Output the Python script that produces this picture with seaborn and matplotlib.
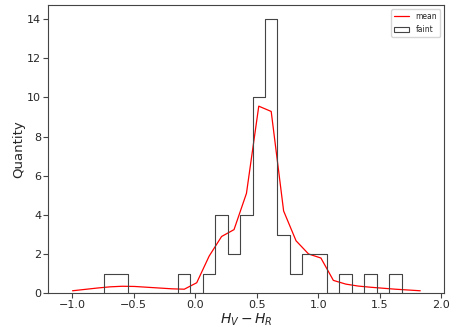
import numpy as np
import pandas as pd
import seaborn as sns
import matplotlib
matplotlib.use("Agg")
import matplotlib.pyplot as plt
from matplotlib.lines import Line2D
from matplotlib.patches import Patch

sns.set_style("white")

# histogram of the faint sample: 24 bins between the min and max colour
bin_min = -0.745
bin_max = 1.676
n_bins = 24
counts = [1, 1, 0, 0, 0, 0, 1, 0, 1, 4, 2, 4, 10, 14, 3, 1, 2, 2, 0, 1, 0, 1, 0, 1]

# mean curve, sampled at the centres of the (extended) bins
mean_x = [-0.997, -0.896, -0.795, -0.694, -0.594, -0.493, -0.392, -0.291, -0.190, -0.089,
          0.012, 0.113, 0.214, 0.315, 0.416, 0.516, 0.617, 0.718, 0.819, 0.920,
          1.021, 1.122, 1.223, 1.324, 1.425, 1.525, 1.626, 1.727, 1.828]
mean_y = [0.13, 0.20, 0.27, 0.33, 0.36, 0.35, 0.31, 0.27, 0.23, 0.21,
          0.54, 1.90, 2.90, 3.25, 5.10, 9.55, 9.28, 4.20, 2.68, 2.01,
          1.80, 0.66, 0.47, 0.37, 0.31, 0.26, 0.21, 0.17, 0.13]

edges = np.linspace(bin_min, bin_max, n_bins + 1)
df_hist = pd.DataFrame({"centre": 0.5 * (edges[:-1] + edges[1:]), "count": counts})
df_mean = pd.DataFrame({"x": mean_x, "y": mean_y})

fig = plt.figure(figsize=(4.63, 3.27), dpi=100)
ax = fig.add_axes([0.104, 0.103, 0.855, 0.881])

sns.lineplot(data=df_mean, x="x", y="y", color="red", lw=0.9, ax=ax)
sns.histplot(data=df_hist, x="centre", weights="count", bins=n_bins,
             binrange=(bin_min, bin_max), element="step", fill=False,
             color="#444444", lw=0.8, ax=ax)

# close the step outline down to zero at both outer edges (like histtype='step')
step = ax.lines[-1]
xs, ys = step.get_data()
step.set_data(np.r_[xs[0], xs, xs[-1]], np.r_[0, ys, 0])

ax.set_xlim(-1.195, 2.021)
ax.set_ylim(0, 14.7)
ax.set_xticks([-1.0, -0.5, 0.0, 0.5, 1.0, 1.5, 2.0])
ax.set_yticks(range(0, 15, 2))
ax.tick_params(axis="both", labelsize=8, direction="out", length=3.5, width=0.8,
               bottom=True, left=True, pad=1.5, color="#444444")
for sp in ax.spines.values():
    sp.set_color("#444444")
    sp.set_linewidth(0.8)

ax.set_xlabel(r"$H_V - H_R$", fontsize=10, labelpad=1)
ax.set_ylabel("Quantity", fontsize=9.5, labelpad=1.5)

handles = [Line2D([], [], color="red", lw=0.9),
           Patch(facecolor="white", edgecolor="#444444", lw=0.8)]
ax.legend(handles, ["mean", "faint"], loc="upper right", fontsize=5.5,
          frameon=True, fancybox=True, framealpha=0.8, edgecolor="#cccccc")

fig.savefig("out.png", dpi=100)
